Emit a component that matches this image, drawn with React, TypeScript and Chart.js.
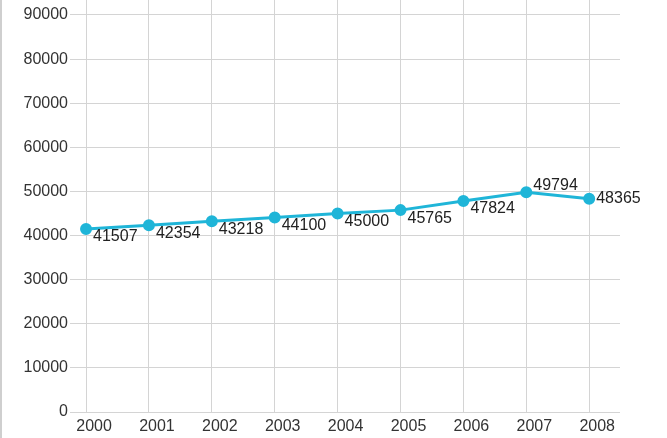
import React, { useEffect, useRef } from "react";
import { Chart, registerables } from "chart.js";

Chart.register(...registerables);

const years = ["2000", "2001", "2002", "2003", "2004", "2005", "2006", "2007", "2008"];
const values = [41507, 42354, 43218, 44100, 45000, 45765, 47824, 49794, 48365];
const yTicks = [0, 10000, 20000, 30000, 40000, 50000, 60000, 70000, 80000, 90000];

const FONT = "'Liberation Sans', Arial, Helvetica, sans-serif";
const LINE = "#1fb5d8";

const labelPlugin = {
  id: "pointLabels",
  afterDatasetsDraw(chart: any) {
    const ctx = chart.ctx;
    const meta = chart.getDatasetMeta(0);
    const n = meta.data.length;
    ctx.save();
    ctx.font = `16px ${FONT}`;
    ctx.fillStyle = "#222";
    ctx.textAlign = "left";
    ctx.textBaseline = "middle";
    meta.data.forEach((pt: any, i: number) => {
      const v = values[i];
      let dy = 8;
      if (i === n - 1) dy = 0;
      else if (i === n - 2) dy = -7;
      ctx.fillText(String(v), pt.x + 7, pt.y + dy);
    });
    ctx.restore();
  },
};

export default function App() {
  const ref = useRef<HTMLCanvasElement>(null);
  useEffect(() => {
    if (!ref.current) return;
    const chart = new Chart(ref.current, {
      type: "line",
      data: {
        datasets: [
          {
            data: values.map((v, i) => ({ x: i, y: v })),
            borderColor: LINE,
            backgroundColor: LINE,
            borderWidth: 3,
            pointRadius: 4.5,
            pointBackgroundColor: LINE,
            pointBorderColor: LINE,
            tension: 0,
            clip: false,
          },
        ],
      },
      options: {
        responsive: false,
        animation: false,
        layout: { autoPadding: false, padding: { left: 0, right: 47, top: 0, bottom: 0 } },
        plugins: { legend: { display: false }, tooltip: { enabled: false } },
        scales: {
          x: {
            type: "linear",
            min: -0.255,
            max: 8.49,
            border: { display: false },
            grid: { color: "#d4d4d4", lineWidth: 1, drawTicks: false },
            afterBuildTicks: (s: any) => {
              s.ticks = years.map((_, i) => ({ value: i }));
            },
            afterFit: (s: any) => {
              s.height = 26;
              s.paddingLeft = 0;
              s.paddingRight = 0;
            },
            ticks: {
              padding: 5,
              labelOffset: 8,
              color: "#333",
              font: { family: FONT, size: 16 },
              maxRotation: 0,
              autoSkip: false,
              callback: (v: any) => years[Math.round(Number(v))] ?? "",
            },
          },
          y: {
            type: "linear",
            min: 0,
            max: 93400,
            border: { display: false },
            grid: { color: "#d4d4d4", lineWidth: 1, drawTicks: false },
            afterBuildTicks: (s: any) => {
              s.ticks = yTicks.map((v) => ({ value: v }));
            },
            afterFit: (s: any) => {
              s.width = 70;
              s.paddingTop = 0;
              s.paddingBottom = 0;
            },
            ticks: {
              padding: 2,
              color: "#333",
              font: { family: FONT, size: 16 },
              callback: (v: any) => String(v),
            },
          },
        },
      },
      plugins: [labelPlugin],
    } as any);
    return () => chart.destroy();
  }, []);
  return (
    <div
      style={{
        position: "fixed",
        left: 0,
        top: 0,
        width: 667,
        height: 438,
        background: "#fff",
      }}
    >
      <canvas ref={ref} width={667} height={438} style={{ display: "block" }} />
      <div
        style={{
          position: "absolute",
          left: 0,
          top: 0,
          width: 2,
          height: 438,
          background: "#cfcfcf",
        }}
      />
    </div>
  );
}
